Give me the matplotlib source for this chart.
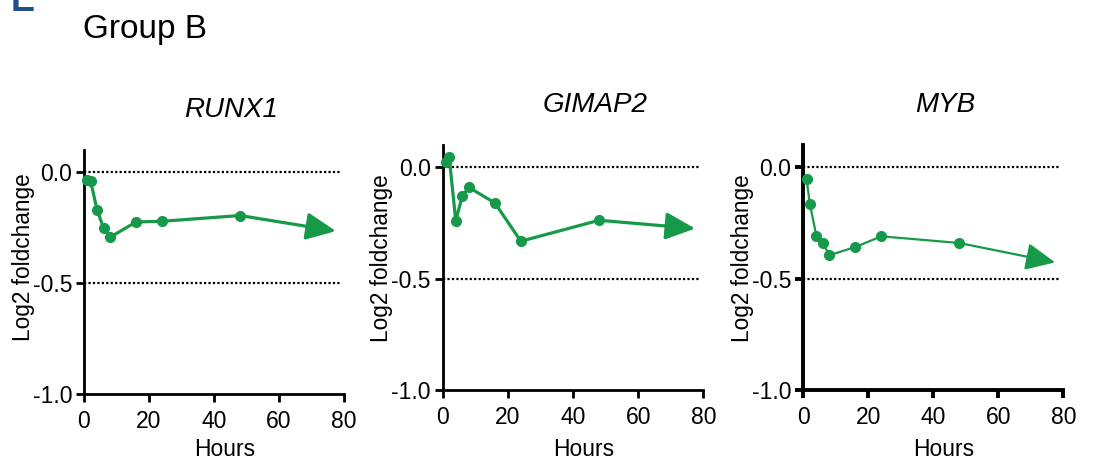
import matplotlib
matplotlib.use("Agg")
import matplotlib.pyplot as plt

plt.rcParams['font.family'] = ['Liberation Sans', 'DejaVu Sans']

# ---- data ----
genes = ["RUNX1", "GIMAP2", "MYB"]
hours = [1, 2, 4, 6, 8, 16, 24, 48]
runx1 = [-0.033, -0.038, -0.168, -0.252, -0.293, -0.224, -0.221, -0.195]
gimap2 = [0.022, 0.046, -0.240, -0.130, -0.090, -0.160, -0.332, -0.238]
myb = [-0.052, -0.163, -0.307, -0.340, -0.395, -0.358, -0.310, -0.340]
arrow_hour = 77.5
arrow_end = [-0.265, -0.275, -0.427]
ref_lines = [0.0, -0.5]
xticks = [0, 20, 40, 60, 80]
yticks = [0.0, -0.5, -1.0]
ytick_labels = ["0.0", "-0.5", "-1.0"]

series = [runx1, gimap2, myb]
green = "#17994a"

fig = plt.figure(figsize=(11, 4.62), dpi=100)

W, H = 1100, 462
# axes boxes in pixels: left, right(x=80), top(y=0.1), bottom(y=-1.0)
boxes = [(84, 344, 150, 394.3), (442.7, 703.3, 145, 390), (803.3, 1063.3, 145, 390)]
line_w = [2.3, 2.3, 1.6]
spine_w = [2.0, 2.0, 2.8]
title_x = [0.565, 0.584, 0.547]
ylab_y = [0.56, 0.54, 0.54]
xlab_y = [-0.18, -0.195, -0.195]

for i, (gene, vals) in enumerate(zip(genes, series)):
    l, r, t, b = boxes[i]
    ax = fig.add_axes([l / W, 1 - b / H, (r - l) / W, (b - t) / H])
    ax.set_xlim(0, 80)
    ax.set_ylim(-1.0, 0.1)
    for s in ["top", "right"]:
        ax.spines[s].set_visible(False)
    for s in ["left", "bottom"]:
        ax.spines[s].set_linewidth(spine_w[i])
    ax.set_xticks(xticks)
    ax.set_yticks(yticks)
    ax.set_yticklabels(ytick_labels)
    ax.tick_params(axis='both', length=5.5, width=spine_w[i], labelsize=16.5)
    ax.tick_params(axis='x', pad=6)
    ax.tick_params(axis='y', pad=3)
    for y in ref_lines:
        ax.hlines(y, 0, 79, colors='black', linestyles=(0, (1, 1)), linewidth=1.6, zorder=1)
    ax.plot(hours, vals, color=green, lw=line_w[i], marker='o', markersize=7,
            zorder=3, clip_on=False)
    ax.annotate('', xy=(arrow_hour, arrow_end[i]), xytext=(hours[-1], vals[-1]),
                arrowprops=dict(arrowstyle='-|>,head_length=1.3,head_width=0.6',
                                mutation_scale=14, lw=line_w[i], color=green,
                                shrinkA=0, shrinkB=0), zorder=3)
    ax.set_ylabel("Log2 foldchange", fontsize=16.3)
    ax.yaxis.set_label_coords(-0.19, ylab_y[i])
    ax.set_xlabel("Hours", fontsize=16.5)
    ax.xaxis.set_label_coords(0.54, xlab_y[i])
    ax.text(title_x[i], 1.165, gene, transform=ax.transAxes, ha='center', va='center',
            fontsize=20, style='italic')

fig.text(83 / W, 1 - 38 / H, "Group B", fontsize=24, ha='left', va='baseline')
fig.text(11 / W, 1 - 11 / H, "E", fontsize=26, fontweight='bold', color='#1f4e8e',
         ha='left', va='baseline')

fig.savefig("out.png", dpi=100)
